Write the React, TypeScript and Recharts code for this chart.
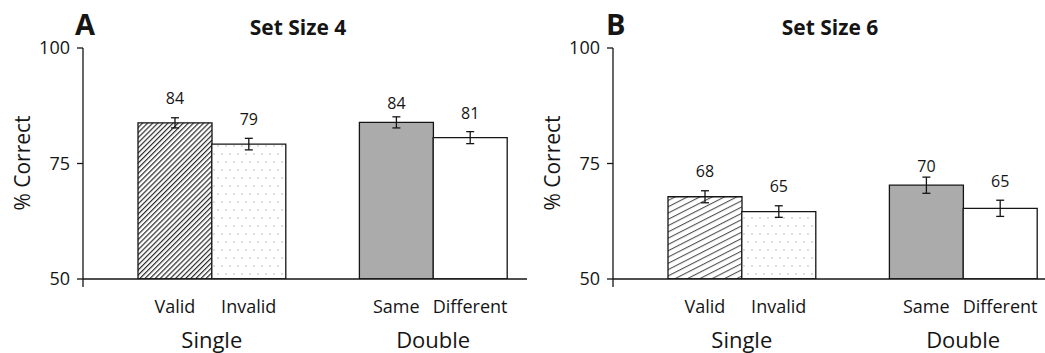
import React from 'react';
import { BarChart, Bar, XAxis, YAxis, Cell, ErrorBar, LabelList } from 'recharts';

const conditions = ['Valid', 'Invalid', 'Same', 'Different'];
const groups = ['Single', 'Single', 'Double', 'Double'];
const setSize4Values = [83.8, 79.2, 83.9, 80.6];
const setSize4Errors = [1.1, 1.25, 1.2, 1.3];
const setSize6Values = [67.8, 64.6, 70.3, 65.3];
const setSize6Errors = [1.3, 1.25, 1.75, 1.75];
const yTicks = [50, 75, 100];

const FONT = "'Open Sans', sans-serif";
const INK = '#151515';

type Row = { name: string; value: number | null; err: number | null; group: string; groupStart: boolean; kind: number };

function buildData(values: number[], errors: number[]): Row[] {
  const rows: Row[] = [];
  conditions.forEach((c, i) => {
    if (i > 0 && groups[i] !== groups[i - 1]) {
      rows.push({ name: '', value: null, err: null, group: '', groupStart: false, kind: -1 });
    }
    rows.push({
      name: c,
      value: values[i],
      err: errors[i],
      group: groups[i],
      groupStart: i === 0 || groups[i] !== groups[i - 1],
      kind: i,
    });
  });
  return rows;
}

function Panel({ values, errors, hatchAngle, hatchGap, hatchWidth, id }: { values: number[]; errors: number[]; hatchAngle: number; hatchGap: number; hatchWidth: number; id: string }) {
  const data = buildData(values, errors);
  const fills = [`url(#hatch-${id})`, `url(#dots-${id})`, '#ababab', '#ffffff'];

  const XTick = (props: any) => {
    const { x, y, payload } = props;
    const row = data[payload.index];
    if (!row) return null;
    const off = payload.offset ?? 0;
    return (
      <g>
        <text x={x} y={y + 34} textAnchor="middle" fontSize={18} fontFamily={FONT} fill={INK}>
          {row.name}
        </text>
        {row.groupStart && (
          <text x={x + off} y={y + 69} textAnchor="middle" fontSize={22} fontFamily={FONT} fill={INK}>
            {row.group}
          </text>
        )}
      </g>
    );
  };

  const YTick = (props: any) => {
    const { x, y, payload } = props;
    const axisX = x + 13;
    return (
      <g>
        <text x={x} y={y} dy="0.35em" textAnchor="end" fontSize={18} fontFamily={FONT} fill={INK}>
          {payload.value}
        </text>
        {payload.value === 50 && <line x1={axisX} y1={y} x2={axisX} y2={y + 8} stroke={INK} strokeWidth={1.3} />}
      </g>
    );
  };

  const renderLabel = (props: any) => {
    const { x, y, width, height, value, index } = props;
    if (value == null) return null;
    const row = data[index];
    const k = height / (value - 50);
    const errPx = (row?.err ?? 0) * k;
    return (
      <text x={x + width / 2} y={y - errPx - 19} dy="0.35em" textAnchor="middle" fontSize={16} fontFamily={FONT} fill={INK}>
        {Math.round(value)}
      </text>
    );
  };

  return (
    <BarChart width={530} height={353} data={data} margin={{ top: 48, right: 3, bottom: 0, left: 0 }} barCategoryGap={0}>
      <defs>
        <pattern id={`hatch-${id}`} width={hatchGap} height={hatchGap} patternUnits="userSpaceOnUse" patternTransform={`rotate(${hatchAngle})`}>
          <rect width={hatchGap} height={hatchGap} fill="#ffffff" />
          <line x1={0} y1={0.6} x2={hatchGap} y2={0.6} stroke="#2a2a2a" strokeWidth={hatchWidth} />
        </pattern>
        <pattern id={`dots-${id}`} width={8} height={16} patternUnits="userSpaceOnUse">
          <rect width={8} height={16} fill="#ffffff" />
          <rect x={1} y={1} width={2} height={2} fill="#dedede" />
          <rect x={5} y={9} width={2} height={2} fill="#dedede" />
        </pattern>
      </defs>
      <XAxis
        dataKey="name"
        padding={{ left: 55, right: 20 }}
        tickLine={false}
        tickSize={0}
        tickMargin={0}
        height={74}
        interval={0}
        axisLine={{ stroke: INK, strokeWidth: 1.3 }}
        tick={<XTick />}
      />
      <YAxis
        domain={[50, 100]}
        ticks={yTicks}
        width={83}
        tickSize={6}
        tickMargin={7}
        axisLine={{ stroke: INK, strokeWidth: 1.3 }}
        tickLine={{ stroke: INK, strokeWidth: 1.3 }}
        tick={<YTick />}
        allowDataOverflow
      />
      <Bar dataKey="value" stroke={INK} strokeWidth={1.3} isAnimationActive={false}>
        {data.map((d, i) => (
          <Cell key={i} fill={d.kind >= 0 ? fills[d.kind] : 'none'} />
        ))}
        <ErrorBar dataKey="err" width={4} stroke={INK} strokeWidth={1.3} isAnimationActive={false} />
        <LabelList dataKey="value" content={renderLabel} />
      </Bar>
    </BarChart>
  );
}

export default function App() {
  return (
    <div style={{ position: 'absolute', left: 0, top: 0, width: 1045, height: 353, overflow: 'hidden', background: '#fff' }}>
      <div style={{ position: 'absolute', left: 0, top: 0 }}>
        <Panel values={setSize4Values} errors={setSize4Errors} hatchAngle={-45} hatchGap={3.6} hatchWidth={1.2} id="a" />
      </div>
      <div style={{ position: 'absolute', left: 530, top: 0 }}>
        <Panel values={setSize6Values} errors={setSize6Errors} hatchAngle={-27} hatchGap={5.6} hatchWidth={0.9} id="b" />
      </div>
      <svg width={1045} height={353} style={{ position: 'absolute', left: 0, top: 0, pointerEvents: 'none' }}>
        <text x={75} y={35} fontSize={29} fontWeight={700} fontFamily={FONT} fill={INK}>A</text>
        <text x={298} y={35} textAnchor="middle" fontSize={21} fontWeight={700} fontFamily={FONT} fill={INK}>Set Size 4</text>
        <text transform="translate(30,163) rotate(-90)" textAnchor="middle" fontSize={21} fontFamily={FONT} fill={INK}>% Correct</text>
        <text x={606} y={35} fontSize={29} fontWeight={700} fontFamily={FONT} fill={INK}>B</text>
        <text x={830} y={35} textAnchor="middle" fontSize={21} fontWeight={700} fontFamily={FONT} fill={INK}>Set Size 6</text>
        <text transform="translate(560,163) rotate(-90)" textAnchor="middle" fontSize={21} fontFamily={FONT} fill={INK}>% Correct</text>
      </svg>
    </div>
  );
}
